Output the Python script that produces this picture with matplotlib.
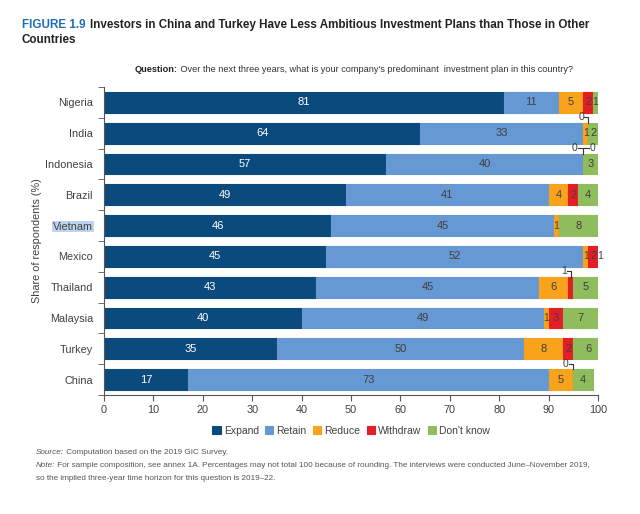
import numpy as np
import matplotlib.pyplot as plt

# survey shares (%)
countries = ["Nigeria", "India", "Indonesia", "Brazil", "Vietnam",
             "Mexico", "Thailand", "Malaysia", "Turkey", "China"]
expand = [81, 64, 57, 49, 46, 45, 43, 40, 35, 17]
retain = [11, 33, 40, 41, 45, 52, 45, 49, 50, 73]
reduce_ = [5, 1, 0, 4, 1, 1, 6, 1, 8, 5]
withdraw = [2, 0, 0, 2, 0, 2, 1, 3, 2, 0]
dont_know = [1, 2, 3, 4, 8, 1, 5, 7, 6, 4]

series_names = ["Expand", "Retain", "Reduce", "Withdraw", "Don't know"]
colors = ["#0b4a7d", "#6699d3", "#f8a31b", "#e31e25", "#8fbc5c"]

# small segments labelled above the bar with a leader: (country, series index)
callouts = [("India", 3), ("Indonesia", 2), ("Indonesia", 3),
            ("Thailand", 3), ("China", 3)]

plt.rcParams['font.family'] = ['Liberation Sans', 'DejaVu Sans']

fig = plt.figure(figsize=(6.4, 5.14), dpi=100)
ax = fig.add_axes([0.1625, 0.2315, 0.772, 0.5992])

data = np.array([expand, retain, reduce_, withdraw, dont_know], dtype=float)
y = np.arange(len(countries))
left = np.zeros(len(countries))
txt_col = "#404040"
for i, name in enumerate(series_names):
    vals = data[i]
    ax.barh(y, vals, left=left, height=0.68, color=colors[i],
            edgecolor=colors[i], linewidth=0.8, label=name)
    for j, v in enumerate(vals):
        if (countries[j], i) in callouts:
            continue
        if v > 0:
            ax.text(left[j] + v / 2, y[j], f"{v:.0f}", ha='center', va='center',
                    fontsize=8 if v > 1 else 7.5,
                    color='white' if i == 0 else txt_col)
    left = left + vals

# callout labels with elbow leaders
lc = "#333333"
top_off = 0.34
ly = 0.52
def seg_x(cname, idx):
    j = countries.index(cname)
    return data[:idx, j].sum() + data[idx, j] / 2, j

# India withdraw 0
x0, j = seg_x("India", 3)
ax.text(x0 - 1.4, j - ly, "0", ha='center', va='center', fontsize=7.5, color=txt_col)
ax.plot([x0 - 0.8, x0, x0], [j - ly, j - ly, j - top_off], color=lc, lw=0.8)
# Indonesia reduce 0 and withdraw 0
x0, j = seg_x("Indonesia", 2)
ax.text(x0 - 1.8, j - ly, "0", ha='center', va='center', fontsize=7.5, color=txt_col)
ax.text(x0 + 1.8, j - ly, "0", ha='center', va='center', fontsize=7.5, color=txt_col)
ax.plot([x0 - 1.1, x0 + 1.1], [j - ly, j - ly], color=lc, lw=0.8)
ax.plot([x0, x0], [j - ly, j - top_off], color=lc, lw=0.8)
# Thailand withdraw 1
x0, j = seg_x("Thailand", 3)
ax.text(x0 - 1.4, j - ly, "1", ha='center', va='center', fontsize=7.5, color=txt_col)
ax.plot([x0 - 0.8, x0, x0], [j - ly, j - ly, j - top_off], color=lc, lw=0.8)
# China withdraw 0
x0, j = seg_x("China", 3)
ax.text(x0 - 1.6, j - ly, "0", ha='center', va='center', fontsize=7.5, color=txt_col)
ax.plot([x0 - 0.9, x0, x0], [j - ly, j - ly, j - top_off], color=lc, lw=0.8)

ax.set_xlim(0, 100)
ax.set_ylim(len(countries) - 0.5, -0.5)
ax.set_xticks(np.arange(0, 101, 10))
ax.set_yticks(y)
ax.set_yticklabels(countries)
ax.set_yticks(np.arange(-0.5, len(countries), 1), minor=True)
ax.tick_params(axis='y', which='major', length=0, pad=8, labelsize=7.8, labelcolor=txt_col)
ax.tick_params(axis='y', which='minor', length=4, color='#555555')
ax.tick_params(axis='x', length=4, color='#555555', labelsize=7.8, labelcolor=txt_col)
for s in ['top', 'right']:
    ax.spines[s].set_visible(False)
ax.spines['left'].set_color('#555555')
ax.spines['bottom'].set_color('#555555')
ax.set_ylabel("Share of respondents (%)", fontsize=7.8, color=txt_col)
ax.yaxis.set_label_coords(-0.125, 0.5)

# highlight behind Vietnam label
for lab in ax.get_yticklabels():
    if lab.get_text() == "Vietnam":
        lab.set_bbox(dict(facecolor='#bcd4ee', edgecolor='none', pad=0.5))

ax.legend(loc='upper center', bbox_to_anchor=(0.5, -0.07), ncol=5, frameon=False,
          fontsize=7.5, handlelength=0.8, handleheight=0.8, handletextpad=0.3,
          columnspacing=0.6, labelcolor=txt_col)

# title block
fig.text(22 / 640, 1 - 28 / 514, "FIGURE 1.9", fontsize=8.4, fontweight='bold',
         color='#1f6db3', va='baseline')
fig.text(90 / 640, 1 - 28 / 514, "Investors in China and Turkey Have Less Ambitious "
         "Investment Plans than Those in Other", fontsize=8.4, fontweight='bold',
         color='#222222', va='baseline')
fig.text(22 / 640, 1 - 43 / 514, "Countries", fontsize=8.4, fontweight='bold',
         color='#222222', va='baseline')

q = fig.text(135 / 640, 1 - 72 / 514, "Question:", fontsize=6.6, fontweight='bold',
             color='#222222', va='baseline')
ax.annotate(" Over the next three years, what is your company's predominant  "
            "investment plan in this country?", xy=(1, 0), xycoords=q,
            va='bottom', fontsize=6.6, color='#333333', annotation_clip=False)

# footnotes
fn = '#555555'
s = fig.text(36 / 640, 1 - 454 / 514, "Source:", fontsize=5.9, style='italic', color=fn,
             va='baseline')
ax.annotate(" Computation based on the 2019 GIC Survey.", xy=(1, 0), xycoords=s,
            va='bottom', fontsize=5.9, color=fn, annotation_clip=False)
n = fig.text(36 / 640, 1 - 467 / 514, "Note:", fontsize=5.9, style='italic', color=fn,
             va='baseline')
ax.annotate(" For sample composition, see annex 1A. Percentages may not total 100 because "
            "of rounding. The interviews were conducted June\u2013November 2019,",
            xy=(1, 0), xycoords=n, va='bottom', fontsize=5.9, color=fn,
            annotation_clip=False)
fig.text(36 / 640, 1 - 480 / 514, "so the implied three-year time horizon for this "
         "question is 2019\u201322.", fontsize=5.9, color=fn, va='baseline')

fig.savefig("out.png", dpi=100)
